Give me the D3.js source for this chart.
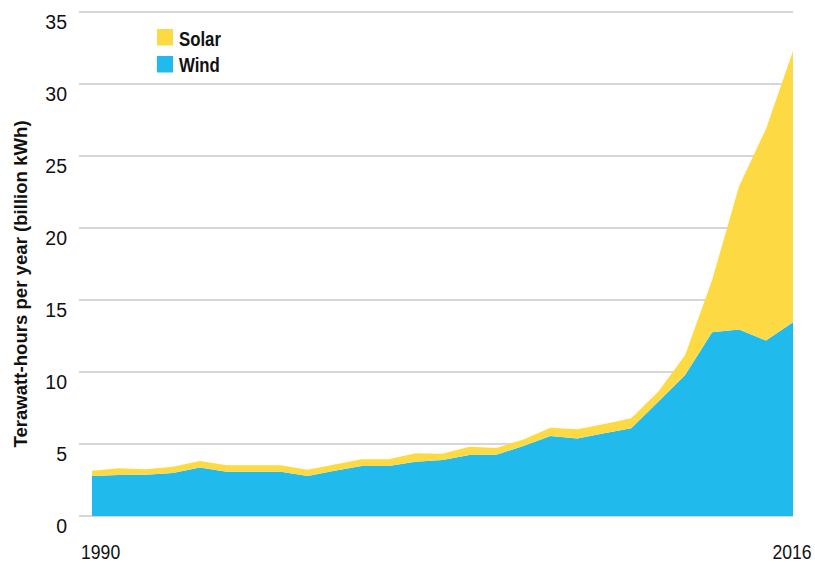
<!DOCTYPE html>
<html>
<head>
<meta charset="utf-8">
<script src="https://cdn.jsdelivr.net/npm/d3@7"></script>
<style>
  html, body { margin: 0; padding: 0; background: #fff; }
  svg { display: block; }
</style>
</head>
<body>
<svg id="chart" width="815" height="564"></svg>
<script>
const years = [1990,1991,1992,1993,1994,1995,1996,1997,1998,1999,2000,2001,2002,2003,2004,2005,2006,2007,2008,2009,2010,2011,2012,2013,2014,2015,2016];
const wind  = [2.78,2.85,2.87,2.99,3.36,3.08,3.08,3.08,2.78,3.15,3.47,3.47,3.77,3.89,4.24,4.26,4.86,5.56,5.38,5.74,6.09,7.94,9.79,12.76,12.96,12.18,13.45];
const solar = [0.37,0.46,0.37,0.43,0.46,0.44,0.44,0.44,0.44,0.43,0.47,0.47,0.58,0.44,0.57,0.46,0.46,0.57,0.64,0.65,0.69,0.69,1.39,3.63,9.94,14.72,18.84];
const yTicks = [0,5,10,15,20,25,30,35];
const xTickLabels = ["1990","2016"];
const seriesNames = ["Wind","Solar"];
const colors = {Wind: "#21BAEC", Solar: "#FDDA43"};
const yTitle = "Terawatt-hours per year (billion kWh)";

const svg = d3.select("#chart");
const font = "'Liberation Sans', Arial, sans-serif";

const x = d3.scaleLinear().domain([1990, 2016]).range([92, 793]);
const y = d3.scaleLinear().domain([0, 35]).range([516, 12]);

const table = years.map((yr, i) => ({year: yr, Wind: wind[i], Solar: solar[i]}));
const layers = d3.stack().keys(seriesNames)(table);

// helper: condensed text via horizontal scaling
function ctext(parent, tx, ty, sx, str, opts) {
  const g = parent.append("g").attr("transform", `translate(${tx},${ty}) scale(${sx},1)`);
  return g.append("text")
    .attr("x", 0).attr("y", 0)
    .attr("text-anchor", opts.anchor || "start")
    .attr("font-family", font)
    .attr("font-weight", opts.weight || "normal")
    .attr("font-size", opts.size)
    .attr("fill", "#111")
    .text(str);
}

// gridlines
svg.append("g").selectAll("line").data(yTicks).join("line")
  .attr("x1", 79).attr("x2", 793)
  .attr("y1", d => y(d)).attr("y2", d => y(d))
  .attr("stroke", "#c9c9c9").attr("stroke-width", 1.5);

// areas
const area = d3.area()
  .x(d => x(d.data.year))
  .y0(d => y(d[0]))
  .y1(d => y(d[1]));
svg.append("g").selectAll("path").data(layers).join("path")
  .attr("d", area)
  .attr("fill", d => colors[d.key]);

// y tick labels
const yl = svg.append("g");
yTicks.forEach(t => ctext(yl, 67, y(t) + 17, 0.93, String(t), {size: 21, anchor: "end"}));

// x labels
const xl = svg.append("g");
ctext(xl, x(1990) - 11, 559, 0.84, xTickLabels[0], {size: 21, anchor: "start"});
ctext(xl, x(2016) - 1, 559, 0.84, xTickLabels[1], {size: 21, anchor: "middle"});

// y title
svg.append("text")
  .attr("transform", "translate(26.5,284) rotate(-90)")
  .attr("text-anchor", "middle")
  .attr("font-family", font)
  .attr("font-weight", "bold")
  .attr("font-size", 18.6)
  .attr("fill", "#111")
  .text(yTitle);

// legend
const legendItems = ["Solar", "Wind"];
const lg = svg.append("g");
lg.selectAll("rect").data(legendItems).join("rect")
  .attr("x", 157).attr("y", (d, i) => 29 + i * 27)
  .attr("width", 16).attr("height", 16.5)
  .attr("fill", d => colors[d]);
legendItems.forEach((d, i) => ctext(lg, 179, 45.5 + i * 26.5, 0.8, d, {size: 21, weight: "bold"}));
</script>
</body>
</html>
